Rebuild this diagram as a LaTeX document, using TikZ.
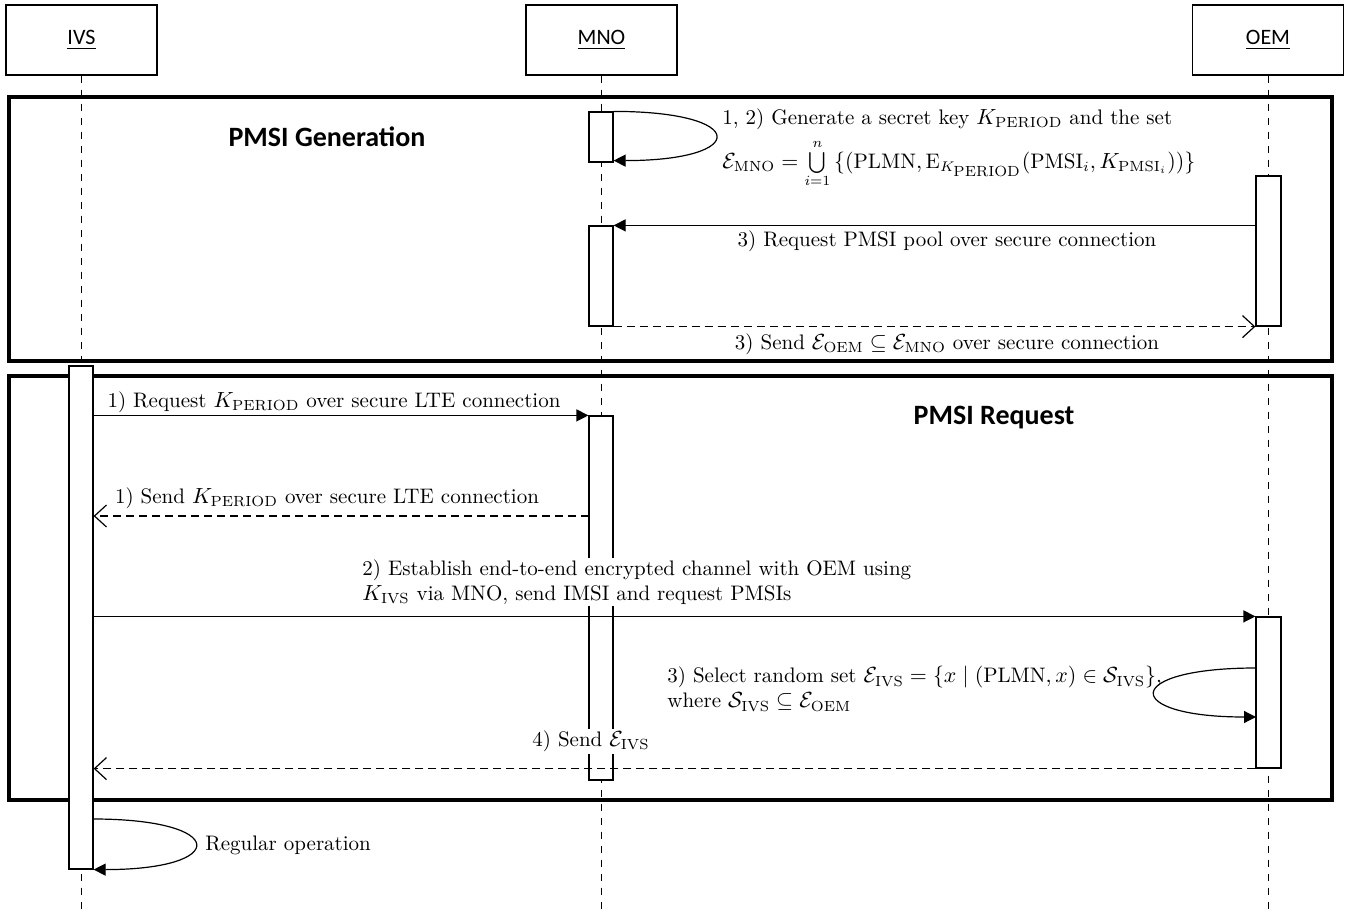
\documentclass[tikz,border=0pt]{standalone}
\usepackage{amsmath,amssymb}
\usepackage{fontspec}
\newfontfamily\calibri{Carlito}
\usetikzlibrary{arrows.meta,fit}
\begin{document}
\begin{tikzpicture}[x=0.5pt,y=-0.5pt,
  hdr/.style={draw, line width=0.6pt, minimum width=75.5pt, minimum height=35pt, font=\calibri\fontsize{11}{13}\selectfont},
  act/.style={draw, fill=white, line width=0.6pt, inner sep=0pt},
  frm/.style={draw, line width=2pt, inner sep=0pt},
  life/.style={dash pattern=on 3.5pt off 3.5pt, line width=0.5pt},
  msg/.style={line width=0.6pt, -{Triangle[length=6pt,width=6pt]}},
  ret/.style={line width=0.6pt, dash pattern=on 4pt off 2.5pt, -{Straight Barb[length=6pt,width=11pt]}},
  lbl/.style={font=\fontsize{10.5}{12.5}\selectfont, inner sep=1pt, fill=white},
  ttl/.style={font=\calibri\bfseries\fontsize{14}{16}\selectfont, inner sep=0pt}
]
\useasboundingbox (0,0) rectangle (1351,916);
% headers
\node[hdr] (ivs) at (81.5,40) {\underline{IVS}};
\node[hdr] (mno) at (601.5,40) {\underline{MNO}};
\node[hdr] (oem) at (1268,40) {\underline{OEM}};
\coordinate (bottom) at (0,912);
% lifelines
\draw[life] (ivs.south) -- (ivs.south |- bottom);
\draw[life] (mno.south) -- (mno.south |- bottom);
\draw[life] (oem.south) -- (oem.south |- bottom);
% frames
\node[frm, fit={(9,97)(1332,361)}] (gen) {};
\node[frm, fit={(9,376)(1332,800)}] (req) {};
\node[ttl] (gentitle) at (327,137) {PMSI Generation};
\node[ttl] (reqtitle) at (994,418) {PMSI Request};
% activation boxes
\node[act, fit={(589,112)(613,162)}] (m1) {};
\node[act, fit={(1256,176)(1281,326)}] (o1) {};
\node[act, fit={(589,226)(613,326)}] (m2) {};
\node[act, fit={(69,366)(93,869)}] (i1) {};
\node[act, fit={(589,416)(613,780)}] (m3) {};
\node[act, fit={(1256,617)(1281,768)}] (o2) {};
% PMSI generation messages
\draw[msg] (m1.north east) .. controls +(136,0) and +(136,0) .. ([yshift=1pt]m1.south east);
\node[lbl, anchor=base west, fill=none, align=left] (g1) at (720,168) {1, 2) Generate a secret key $K_{\mathrm{PERIOD}}$ and the set\\[9.5pt]$\mathcal{E}_{\mathrm{MNO}} = \smash{\bigcup\limits_{i=1}^{n}}\,\{(\mathrm{PLMN}, \mathrm{E}_{K_{\scriptstyle\mathrm{PERIOD}}}(\mathrm{PMSI}_i, K_{\mathrm{PMSI}_i}))\}$};
\draw[msg] (o1.west |- m2.north) -- (m2.north east);
\node[lbl] (l3a) at (947,241) {3) Request PMSI pool over secure connection};
\draw[ret] (m2.south east) -- (o1.south west);
\node[lbl] (l3b) at (947,344) {3) Send $\mathcal{E}_{\mathrm{OEM}} \subseteq \mathcal{E}_{\mathrm{MNO}}$ over secure connection};
% PMSI request messages
\draw[msg] (i1.east |- m3.north) -- (m3.north west);
\node[lbl] (l1a) at (334,402) {1) Request $K_{\mathrm{PERIOD}}$ over secure LTE connection};
\coordinate (r1) at (589,516);
\draw[ret] (r1) -- (r1 -| i1.east);
\node[lbl] (l1b) at (327,498) {1) Send $K_{\mathrm{PERIOD}}$ over secure LTE connection};
\draw[msg] (i1.east |- o2.north) -- (o2.north west);
\node[lbl, anchor=west, align=left] (l2) at (360,582) {2) Establish end-to-end encrypted channel with OEM using\\$K_{\mathrm{IVS}}$ via MNO, send IMSI and request PMSIs};
\coordinate (ol1) at (1256,668);
\coordinate (ol2) at (1256,717);
\draw[msg] (ol1) .. controls +(-135,0) and +(-135,0) .. (ol2);
\node[lbl, anchor=west, align=left, fill=none] (l3c) at (665,689) {3) Select random set $\mathcal{E}_{\mathrm{IVS}} = \{x \mid (\mathrm{PLMN}, x) \in \mathcal{S}_{\mathrm{IVS}}\}$,\\where $\mathcal{S}_{\mathrm{IVS}} \subseteq \mathcal{E}_{\mathrm{OEM}}$};
\draw[ret] (o2.south west) -- (o2.south west -| i1.east);
\node[lbl] (l4) at (591,741) {4) Send $\mathcal{E}_{\mathrm{IVS}}$};
\coordinate (il1) at (93,819);
\draw[msg] (il1) .. controls +(136,0) and +(136,0) .. (i1.south east);
\node[lbl, anchor=west, fill=none] (lro) at (203,845) {Regular operation};
\end{tikzpicture}
\end{document}
